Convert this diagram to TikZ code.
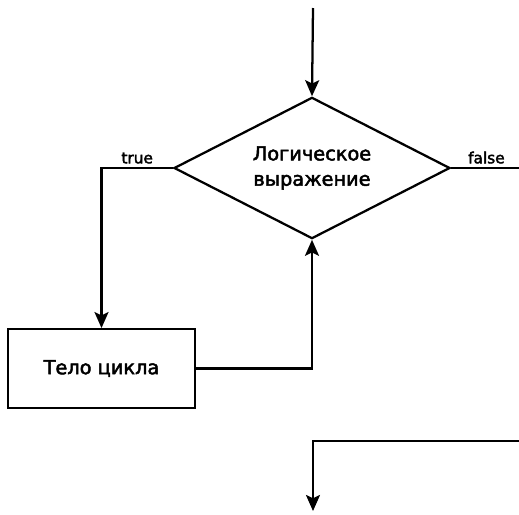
\documentclass[tikz,border=0pt]{standalone}
\usepackage{fontspec}
\setmainfont{DejaVu Sans}
\newfontfamily\heavyfont{DejaVu Sans}[FakeBold=2.5]
\usetikzlibrary{arrows.meta,positioning,shapes.geometric}
\tikzset{
  flowline/.style={line width=1.7pt,black},
  flowarrow/.style={flowline,-{Stealth[length=12pt,width=10.5pt,inset=2.5pt]}},
  decision/.style={diamond,draw,line width=1.7pt,inner sep=0pt,align=center,shape aspect=1.96,
    minimum width=207pt,minimum height=106pt,font=\heavyfont\fontsize{14.5}{19}\selectfont},
  block/.style={rectangle,draw,line width=1.7pt,align=center,
    minimum width=140pt,minimum height=59pt,font=\heavyfont\fontsize{14.5}{17}\selectfont},
  branchlabel/.style={above,font=\heavyfont\fontsize{11.5}{13}\selectfont,inner sep=2.5pt}
}
\begin{document}
\begin{tikzpicture}[x=0.75pt,y=-0.75pt]
\useasboundingbox (0,0) rectangle (519,515);
% condition and loop body
\node[decision] (cond) at (312,168) {Логическое\\выражение};
\node[block] (body) at (101.5,368.5) {Тело цикла};
% free ends
\coordinate (start) at (313,8);
\coordinate (falseout) at (519,168);
\coordinate (backin) at (519,441);
\coordinate (stop) at (313,511);
% connectors
\draw[flowarrow] (start) -- (cond.north);
\draw[flowarrow] (cond.west) -| node[branchlabel,pos=0.25] {true} (body.north);
\draw[flowline] (cond.east) -- node[branchlabel,pos=0.52] {false} (falseout);
\draw[flowarrow] (body.east) -| (cond.south);
\draw[flowarrow] (backin) -| (stop);
\end{tikzpicture}
\end{document}
